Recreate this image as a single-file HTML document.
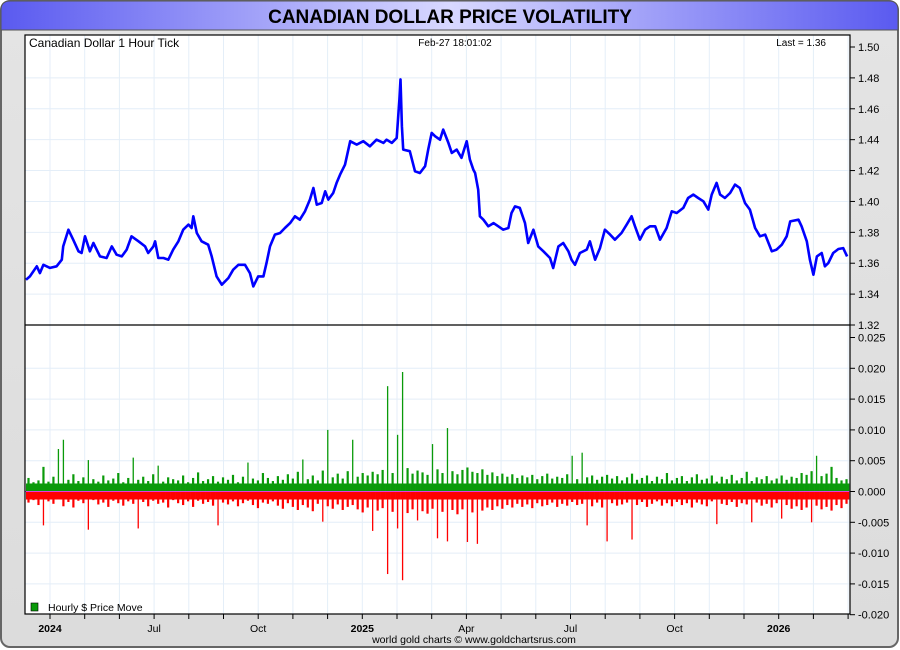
<!DOCTYPE html>
<html><head><meta charset="utf-8">
<style>
html,body{margin:0;padding:0;background:#fff;}
#wrap{position:relative;width:900px;height:650px;overflow:hidden;font-family:"Liberation Sans",sans-serif;}
svg text{font-family:"Liberation Sans",sans-serif;}
</style></head>
<body>
<div id="wrap">
<svg id="chart" width="900" height="650" xmlns="http://www.w3.org/2000/svg">
<defs>
<linearGradient id="tg" x1="0" x2="1" y1="0" y2="0">
<stop offset="0" stop-color="#5a5af0"/><stop offset="0.5" stop-color="#d8d8ff"/><stop offset="1" stop-color="#5a5af0"/>
</linearGradient>
<linearGradient id="bg" x1="0" x2="0" y1="0" y2="1">
<stop offset="0" stop-color="#e4e4e4"/><stop offset="1" stop-color="#dcdcdc"/>
</linearGradient>
</defs>
<rect x="0" y="0" width="900" height="650" fill="#fff"/>
<rect x="1" y="1" width="897" height="646" rx="9" fill="url(#bg)" stroke="#666" stroke-width="2"/>
<path d="M1,30 L1,10 Q1,1 10,1 L889,1 Q898,1 898,10 L898,30 Z" fill="url(#tg)" stroke="#555" stroke-width="1"/>
<text x="450" y="23" text-anchor="middle" font-size="19" font-weight="bold" fill="#000">CANADIAN DOLLAR PRICE VOLATILITY</text>
<rect x="25" y="35" width="825" height="579" fill="#fff"/>
<g id="grid"></g>
<g id="bars"></g>
<g id="line"></g>
<rect x="25" y="35" width="825" height="579" fill="none" stroke="#000" stroke-width="1.2"/>
<line x1="25" y1="325" x2="850" y2="325" stroke="#000" stroke-width="1.2"/>
<g id="axes"></g>
<text x="29" y="47" font-size="12" fill="#000">Canadian Dollar 1 Hour Tick</text>
<text x="455" y="46" text-anchor="middle" font-size="10" fill="#000">Feb-27  18:01:02</text>
<text x="826" y="46" text-anchor="end" font-size="10" fill="#000">Last = 1.36</text>
<g>
<rect x="31" y="603" width="7" height="8" fill="#0a9a0a" stroke="#000" stroke-width="0.6"/>
<text x="48" y="611" font-size="10.5" fill="#000">Hourly $ Price Move</text>
</g>
<text x="474" y="643" text-anchor="middle" font-size="10.5" fill="#000">world gold charts © www.goldchartsrus.com</text>
</svg>
</div>
<script>
// ---- data ----
// months since 2024-04-01
const priceMonths = [-0.86,-0.58,-0.38,-0.29,-0.19,0,0.19,0.34,0.38,0.53,0.67,0.82,0.91,1.01,1.15,1.25,1.44,1.63,1.78,1.92,2.07,2.21,2.35,2.55,2.74,2.83,2.98,3.03,3.12,3.27,3.41,3.55,3.70,3.84,3.99,4.08,4.13,4.23,4.37,4.56,4.66,4.80,4.95,5.14,5.28,5.43,5.62,5.76,5.86,6.00,6.15,6.24,6.34,6.48,6.63,6.77,6.92,7.06,7.20,7.35,7.49,7.59,7.69,7.83,7.93,8.02,8.16,8.26,8.36,8.50,8.65,8.84,9.03,9.22,9.41,9.61,9.70,9.85,9.99,10.07,10.10,10.14,10.18,10.37,10.52,10.66,10.81,10.90,11.00,11.10,11.24,11.33,11.48,11.58,11.72,11.86,12.01,12.10,12.20,12.25,12.34,12.39,12.49,12.63,12.78,12.92,13.06,13.21,13.30,13.40,13.54,13.69,13.78,13.93,14.07,14.22,14.41,14.50,14.65,14.79,14.94,15.03,15.13,15.27,15.47,15.56,15.71,15.85,15.99,16.14,16.28,16.47,16.62,16.76,16.86,17.00,17.15,17.29,17.44,17.58,17.77,17.92,18.06,18.25,18.39,18.54,18.68,18.83,18.97,19.07,19.21,19.31,19.45,19.60,19.74,19.88,20.03,20.17,20.32,20.46,20.61,20.80,20.94,21.09,21.23,21.33,21.57,21.66,21.81,21.90,22.00,22.10,22.24,22.33,22.43,22.57,22.72,22.86,22.97];
const prices = [1.3493,1.3515,1.358,1.3536,1.359,1.357,1.358,1.3623,1.3709,1.3817,1.3752,1.3677,1.3666,1.3774,1.3677,1.3731,1.3644,1.3634,1.3709,1.3655,1.3644,1.3688,1.3774,1.3742,1.3709,1.3666,1.3709,1.3742,1.3634,1.3634,1.3623,1.3688,1.3742,1.3817,1.385,1.3828,1.3904,1.3796,1.3742,1.372,1.3644,1.3515,1.3461,1.3504,1.3558,1.359,1.359,1.3536,1.345,1.3515,1.3515,1.3601,1.3709,1.3785,1.3796,1.3828,1.386,1.3904,1.3882,1.3936,1.4012,1.4087,1.3979,1.399,1.4066,1.4012,1.4055,1.412,1.4174,1.4238,1.439,1.4368,1.439,1.4357,1.44,1.4379,1.44,1.4379,1.4411,1.466,1.479,1.4487,1.4336,1.4325,1.4195,1.4184,1.4228,1.4336,1.4444,1.4422,1.44,1.4465,1.4379,1.4314,1.4336,1.4282,1.439,1.4271,1.4206,1.4184,1.4076,1.3904,1.3882,1.3839,1.386,1.3839,1.3817,1.3828,1.3925,1.3968,1.3958,1.386,1.3731,1.3817,1.3709,1.3677,1.3634,1.3569,1.3709,1.3731,1.3677,1.3623,1.359,1.3666,1.3688,1.3742,1.3623,1.3698,1.3817,1.3785,1.3752,1.3796,1.385,1.3904,1.3839,1.3752,1.3817,1.3839,1.3839,1.3752,1.3828,1.3936,1.3925,1.3958,1.4022,1.4044,1.4022,1.4001,1.3947,1.4044,1.412,1.4044,1.4022,1.4055,1.4109,1.4087,1.399,1.3947,1.3828,1.3774,1.3785,1.3677,1.3688,1.372,1.3774,1.3871,1.3882,1.3839,1.3742,1.3623,1.3526,1.3644,1.3666,1.358,1.3601,1.3666,1.3692,1.3698,1.3644];
// hourly moves, in thousandths of a dollar (one bar per bucket)
const upMovesMilli = [2.2,1.5,1.8,4.0,1.6,2.4,6.9,8.4,1.9,2.8,1.7,2.3,5.1,2.0,1.6,2.6,1.8,2.1,3.0,1.5,2.2,5.5,1.9,2.4,1.7,2.8,4.2,1.6,2.3,2.0,1.8,2.6,1.5,2.2,3.1,1.7,2.0,2.5,1.6,2.3,1.9,2.7,1.5,2.4,4.7,2.1,1.8,3.0,2.2,1.7,2.5,1.9,2.8,2.1,3.2,5.2,2.0,2.6,1.8,3.4,10.0,2.3,2.9,2.1,3.3,8.4,2.4,3.0,2.6,3.2,2.8,3.5,17.1,3.0,9.2,19.4,3.8,2.9,3.4,3.1,2.7,7.7,3.6,3.0,10.3,3.3,2.8,3.5,3.9,3.2,3.0,3.6,2.7,3.1,2.5,2.9,2.4,2.8,2.2,2.6,2.3,2.7,2.0,2.5,2.9,2.1,2.4,2.2,2.8,5.8,2.0,6.3,2.3,2.6,1.9,2.4,2.7,2.1,2.5,1.8,2.3,2.9,1.9,2.2,2.6,1.7,2.4,2.0,3.0,1.8,2.2,2.5,1.7,2.3,2.8,1.9,2.1,2.6,1.6,2.4,2.0,2.7,1.8,2.2,3.2,1.7,2.3,2.0,2.5,1.8,2.1,2.6,1.9,2.4,2.2,3.0,2.7,3.3,5.8,2.5,2.9,4.0,2.2,1.8,2.0];
const downMovesMilli = [-1.8,-1.4,-2.2,-5.5,-1.6,-2.0,-1.3,-2.4,-1.7,-2.6,-1.5,-1.9,-6.2,-1.4,-2.1,-1.8,-2.5,-1.5,-1.9,-2.3,-1.6,-2.0,-6.0,-1.7,-2.4,-1.5,-2.0,-1.8,-2.6,-1.4,-1.9,-2.2,-1.6,-2.5,-1.5,-2.0,-1.7,-2.3,-5.5,-1.8,-2.1,-1.6,-2.4,-1.9,-1.5,-2.2,-2.7,-1.8,-2.0,-1.6,-2.3,-2.8,-1.9,-2.5,-3.0,-2.2,-2.6,-3.2,-2.0,-4.9,-2.4,-2.8,-2.1,-3.0,-2.5,-2.2,-2.9,-3.4,-2.6,-6.4,-3.1,-2.7,-13.4,-3.3,-6.0,-14.4,-3.5,-2.9,-4.7,-3.2,-3.6,-2.8,-7.6,-3.3,-8.1,-3.0,-3.7,-2.9,-8.2,-3.4,-8.5,-3.1,-2.6,-3.0,-2.4,-2.8,-2.2,-2.6,-2.0,-2.5,-2.1,-2.7,-1.9,-2.4,-2.2,-1.8,-2.5,-2.0,-2.3,-1.7,-2.2,-2.0,-5.5,-2.4,-1.8,-2.6,-8.1,-1.9,-2.3,-2.1,-1.8,-7.8,-2.2,-1.7,-2.5,-2.0,-1.6,-2.3,-1.9,-2.4,-1.7,-2.2,-1.9,-2.6,-1.8,-2.1,-2.4,-1.6,-5.3,-2.0,-2.2,-1.7,-2.5,-1.9,-2.1,-5.0,-1.8,-2.3,-2.0,-2.6,-1.9,-4.4,-2.2,-2.8,-2.4,-3.0,-2.6,-5.0,-2.3,-2.9,-2.5,-3.1,-2.2,-2.7,-2.0];
const priceTicks = [1.32,1.34,1.36,1.38,1.40,1.42,1.44,1.46,1.48,1.50];
const moveTicks = [0.025,0.020,0.015,0.010,0.005,0.000,-0.005,-0.010,-0.015,-0.020];
const monthLabels = ["2024","Jul","Oct","2025","Apr","Jul","Oct","2026"];
const monthLabelPos = [-0.8,3,6,9,12,15,18,21];

// ---- scales ----
const X0 = 25, X1 = 850;
const xM = m => 50 + m * 34.7;
const yP = p => 325 - (p - 1.32) / 0.18 * 278;
const yV = v => 491.5 - v / 0.005 * 30.8;
const NS = "http://www.w3.org/2000/svg";
function mk(tag, attrs, parent){
  const e = document.createElementNS(NS, tag);
  for (const k in attrs) e.setAttribute(k, attrs[k]);
  parent.appendChild(e); return e;
}
const grid = document.getElementById('grid');
const axes = document.getElementById('axes');
const bars = document.getElementById('bars');
const lineG = document.getElementById('line');

for (let m = -1; m <= 23; m++) {
  const x = xM(m);
  if (x <= X0 || x >= X1) continue;
  const g = mk('line', {x1:x, x2:x, y1:35, y2:614, stroke:'#e4eef8', 'stroke-width':1}, grid);
  
  
  const t = mk('line', {x1:x, x2:x, y1:614, y2:619, stroke:'#000', 'stroke-width':1}, axes);
  
  
}
monthLabels.forEach((lab, i) => {
  const x = monthLabelPos[i] < 0 ? 50 : xM(monthLabelPos[i]);
  const bold = /^\d/.test(lab);
  const t = mk('text', {x:x, y:632, 'text-anchor':'middle', 'font-size':10.5, 'font-weight': bold ? 'bold' : 'normal', fill:'#000'}, axes);
  t.textContent = lab;
  
  
});
priceTicks.forEach(p => {
  const y = yP(p);
  if (p > 1.32 && p < 1.50) {
    const g = mk('line', {x1:X0, x2:X1, y1:y, y2:y, stroke:'#e4eef8', 'stroke-width':1}, grid);
    
    
  }
  mk('line', {x1:850, x2:855, y1:y, y2:y, stroke:'#000'}, axes);
  const t = mk('text', {x:858, y:y + 4, 'font-size':11, fill:'#000'}, axes);
  t.textContent = p.toFixed(2);
  
  
});
moveTicks.forEach(v => {
  const y = yV(v);
  if (v < 0.025 && v > -0.020) {
    const g = mk('line', {x1:X0, x2:X1, y1:y, y2:y, stroke:'#e4eef8', 'stroke-width':1}, grid);
    
    
  }
  mk('line', {x1:850, x2:855, y1:y, y2:y, stroke:'#000'}, axes);
  const t = mk('text', {x:858, y:y + 4, 'font-size':11, fill:'#000'}, axes);
  t.textContent = (v < 0 ? '-' : '') + Math.abs(v).toFixed(3);
  
  
});

// bars: dense band up to a cap drawn full width, remainder drawn narrower
const n = upMovesMilli.length;
const bw = (X1 - X0 - 2) / n;
const xB = i => X0 + 1 + i * bw;
const BAND = 1.3;
const tipW = v => Math.abs(v) > 4 ? 1.3 : 2.2;
upMovesMilli.forEach((v, i) => {
  const vb = Math.min(v, BAND);
  const yb = yV(vb / 1000);
  const r = mk('rect', {x:xB(i), y:yb, width:bw + 0.3, height:yV(0) - yb, fill:'#0a9a0a'}, bars);
  
  
  if (v > BAND) {
    const y = yV(v / 1000);
    const w = tipW(v);
    const s = mk('rect', {x:xB(i) + bw / 2 - w / 2, y:y, width:w, height:yb - y + 0.5, fill:'#0a9a0a'}, bars);
    
    
  }
});
downMovesMilli.forEach((v, i) => {
  const vb = Math.max(v, -BAND);
  const yb = yV(vb / 1000);
  const r = mk('rect', {x:xB(i), y:yV(0), width:bw + 0.3, height:yb - yV(0), fill:'#ff0000'}, bars);
  
  
  if (v < -BAND) {
    const y = yV(v / 1000);
    const w = tipW(v);
    const s = mk('rect', {x:xB(i) + bw / 2 - w / 2, y:yb - 0.5, width:w, height:y - yb + 0.5, fill:'#ff0000'}, bars);
    
    
  }
});
const zl = mk('line', {x1:X0, x2:X1, y1:yV(0), y2:yV(0), stroke:'#e040e0', 'stroke-width':1}, bars);



let d = '';
priceMonths.forEach((m, i) => {
  const x = Math.max(X0 + 1, xM(m));
  d += (i ? 'L' : 'M') + x.toFixed(1) + ',' + yP(prices[i]).toFixed(1);
});
const pl = mk('path', {d:d, fill:'none', stroke:'#0000ff', 'stroke-width':2.6, 'stroke-linejoin':'round'}, lineG);


</script>
</body></html>
